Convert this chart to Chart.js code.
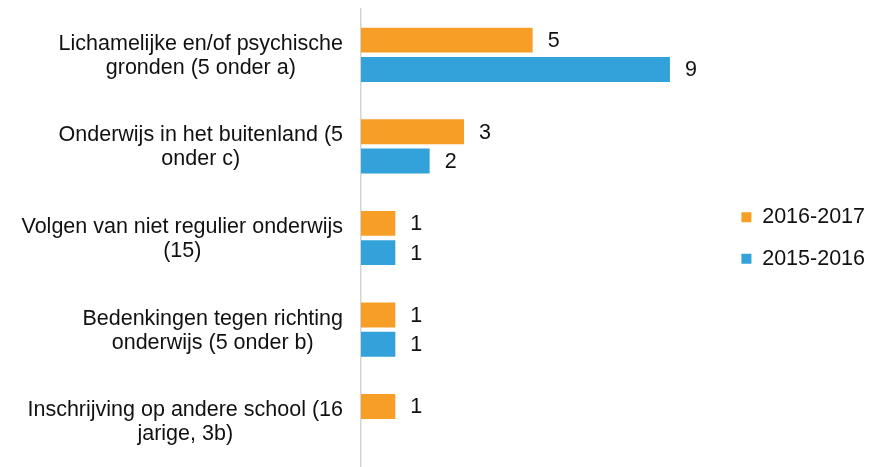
<!DOCTYPE html>
<html>
<head>
<meta charset="utf-8">
<script src="https://cdn.jsdelivr.net/npm/chart.js@4/dist/chart.umd.min.js"></script>
<style>
  html, body { margin: 0; padding: 0; background: #fff; }
  #wrap { width: 881px; height: 467px; }
</style>
</head>
<body>
<div id="wrap"><canvas id="chart"></canvas></div>
<script>
// Data
const categories = [
    ['Lichamelijke en/of psychische', 'gronden (5 onder a)'],
    ['Onderwijs in het buitenland (5', 'onder c)'],
    ['Volgen van niet regulier onderwijs', '(15)'],
    ['Bedenkingen tegen richting', 'onderwijs (5 onder b)'],
    ['Inschrijving op andere school (16', 'jarige, 3b)']
];
const values2016 = [5, 3, 1, 1, 1];
const values2015 = [9, 2, 1, 1, null];
const seriesNames = ['2016-2017', '2015-2016'];

const FONT = 'Liberation Sans, Arial, sans-serif';
const FONT_SIZE = 21.5;
const TEXT_COLOR = '#111';

// centered multi-line category labels, block right-aligned at the axis
const categoryLabels = {
    id: 'categoryLabels',
    afterDraw(chart) {
        const ctx = chart.ctx;
        const yScale = chart.scales.y;
        const right = yScale.right - 18;
        const lineHeight = 24;
        ctx.save();
        ctx.font = FONT_SIZE + 'px ' + FONT;
        ctx.fillStyle = TEXT_COLOR;
        ctx.textAlign = 'center';
        ctx.textBaseline = 'middle';
        categories.forEach((lines, i) => {
            const maxW = Math.max(...lines.map(l => ctx.measureText(l).width));
            const cx = right - maxW / 2;
            const cy = yScale.getPixelForValue(i) + 1;
            const startY = cy - (lines.length - 1) * lineHeight / 2;
            lines.forEach((l, j) => ctx.fillText(l, cx, startY + j * lineHeight));
        });
        ctx.restore();
    }
};

// value labels to the right of each bar
const valueLabels = {
    id: 'valueLabels',
    afterDatasetsDraw(chart) {
        const ctx = chart.ctx;
        ctx.save();
        ctx.font = FONT_SIZE + 'px ' + FONT;
        ctx.fillStyle = TEXT_COLOR;
        ctx.textAlign = 'left';
        ctx.textBaseline = 'middle';
        chart.data.datasets.forEach((ds, di) => {
            chart.getDatasetMeta(di).data.forEach((bar, i) => {
                if (ds.data[i] == null) return;
                ctx.fillText(ds.data[i], bar.x + 15, bar.y + 1);
            });
        });
        ctx.restore();
    }
};

new Chart(document.getElementById('chart'), {
    type: 'bar',
    data: {
        labels: categories.map(c => c.join(' ')),
        datasets: [
            {
                label: seriesNames[0],
                data: values2016,
                backgroundColor: '#F79E27',
                borderWidth: 0,
                categoryPercentage: 0.64,
                barPercentage: 0.85
            },
            {
                label: seriesNames[1],
                data: values2015,
                backgroundColor: '#33A2DA',
                borderWidth: 0,
                categoryPercentage: 0.64,
                barPercentage: 0.85
            }
        ]
    },
    options: {
        indexAxis: 'y',
        responsive: true,
        maintainAspectRatio: false,
        animation: false,
        layout: { padding: { top: 9, right: 6, bottom: 0, left: 0 } },
        scales: {
            x: {
                display: false,
                min: 0,
                max: 10.5
            },
            y: {
                grid: { display: false },
                border: { display: true, color: '#d4d4d4', width: 1.5 },
                ticks: { display: false },
                afterFit(scale) { scale.width = 361; }
            }
        },
        plugins: {
            legend: {
                position: 'right',
                labels: {
                    boxWidth: 10,
                    boxHeight: 10,
                    padding: 20,
                    color: TEXT_COLOR,
                    font: { family: FONT, size: FONT_SIZE }
                }
            },
            tooltip: { enabled: false }
        }
    },
    plugins: [categoryLabels, valueLabels]
});
</script>
</body>
</html>
